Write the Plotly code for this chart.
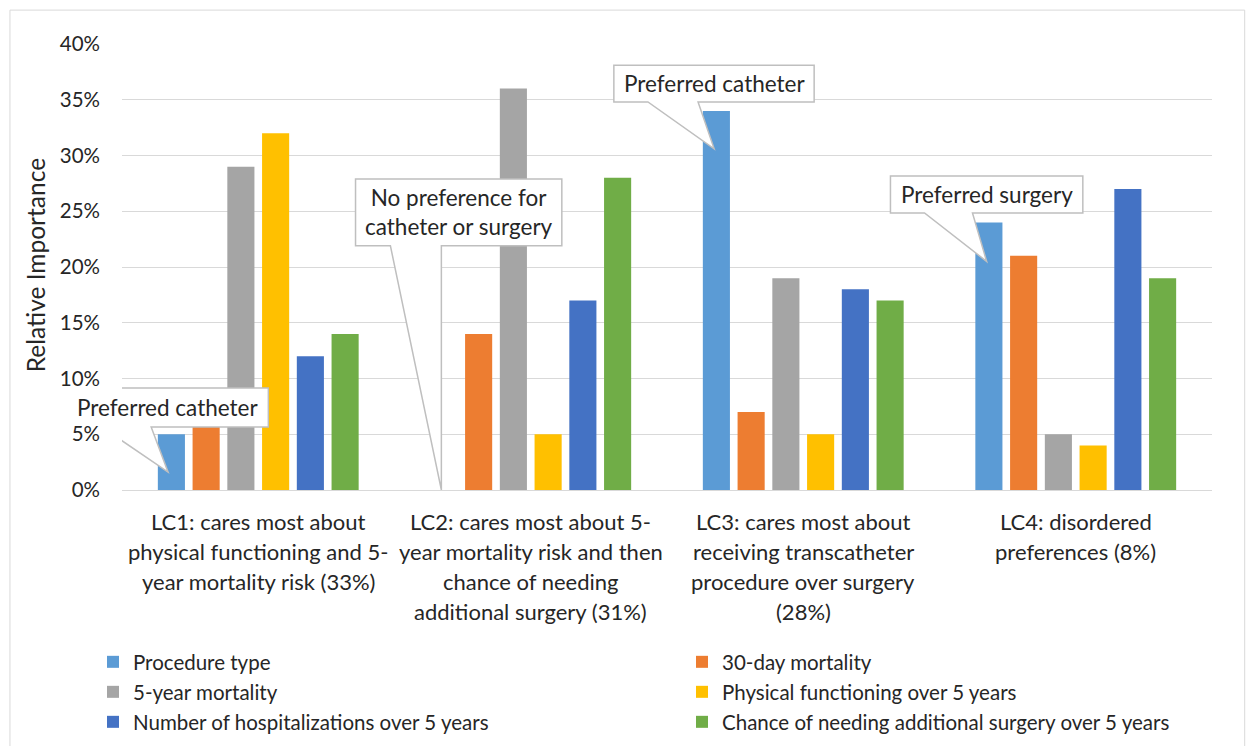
import plotly.graph_objects as go

# Daten
klassen = ['LC1', 'LC2', 'LC3', 'LC4']
klassen_text = [
    ['LC1: cares most about', 'physical functioning and 5-', 'year mortality risk (33%)'],
    ['LC2: cares most about 5-', 'year mortality risk and then', 'chance of needing', 'additional surgery (31%)'],
    ['LC3: cares most about', 'receiving transcatheter', 'procedure over surgery', '(28%)'],
    ['LC4: disordered', 'preferences (8%)'],
]
attribute = ['Procedure type', '30-day mortality', '5-year mortality',
             'Physical functioning over 5 years', 'Number of hospitalizations over 5 years',
             'Chance of needing additional surgery over 5 years']
procedure_type = [5, 0, 34, 24]
mortality_30d = [6, 14, 7, 21]
mortality_5y = [29, 36, 19, 5]
physical = [32, 5, 5, 4]
hospitalizations = [12, 17, 18, 27]
add_surgery = [14, 28, 17, 19]
werte = [procedure_type, mortality_30d, mortality_5y, physical, hospitalizations, add_surgery]
farben = ['#5B9BD5', '#ED7D31', '#A5A5A5', '#FFC000', '#4472C4', '#70AD47']

# Callouts: text, box (x0, x1, y_top, y_bottom), wedge base (xa, xb), tip (x, y)
callout_text = ['Preferred catheter', 'No preference for<br>catheter or surgery',
                'Preferred catheter', 'Preferred surgery']
callout_box = [(-0.702, 0.037, 9.15, 5.65), (0.357, 1.114, 27.9, 21.9),
               (1.305, 2.040, 38.1, 34.8), (2.320, 3.026, 28.16, 24.84)]
callout_base = [(-0.574, -0.393), (0.485, 0.672), (1.430, 1.614), (2.445, 2.621)]
callout_tip = [(-0.331, 1.6), (0.672, 0.0), (1.673, 30.6), (2.673, 20.5)]

schrift = 'Lato'
textfarbe = '#262626'

# Legende: 2 Spalten, 3 Zeilen (Position in Pixel der Seite)
leg_x = [93, 682]
leg_y = [662, 692, 722]

fig = go.Figure()
legenden = {}
for k, (name, w, f) in enumerate(zip(attribute, werte, farben)):
    lname = 'legend' if k == 0 else f'legend{k + 1}'
    fig.add_trace(go.Bar(x=list(range(len(klassen))), y=w, name=name, marker_color=f,
                         marker_line_width=0, legend=lname))
    legenden[lname] = dict(x=leg_x[k % 2] / 1248, xref='container', xanchor='left',
                           y=1 - leg_y[k // 2] / 746, yref='container', yanchor='middle',
                           font=dict(family=schrift, size=20.5, color=textfarbe),
                           bgcolor='rgba(0,0,0,0)', itemwidth=30)

shapes = []
annotations = []
for txt, box, base, tip in zip(callout_text, callout_box, callout_base, callout_tip):
    x0, x1, yt, yb = box
    pfad = (f'M {x0},{yt} L {x1},{yt} L {x1},{yb} L {base[1]},{yb} L {tip[0]},{tip[1]} '
            f'L {base[0]},{yb} L {x0},{yb} Z')
    shapes.append(dict(type='path', path=pfad, xref='x', yref='y', fillcolor='white',
                       line=dict(color='#BFBFBF', width=1.5), layer='above'))
    annotations.append(dict(x=(x0 + x1) / 2, y=(yt + yb) / 2, xref='x', yref='y', text=txt,
                            showarrow=False, font=dict(family=schrift, size=22.5, color=textfarbe)))

# Kategoriebeschriftungen zeilenweise
for i, zeilen in enumerate(klassen_text):
    for j, z in enumerate(zeilen):
        annotations.append(dict(x=i, y=0, xref='x', yref='paper', text=z, showarrow=False,
                                yanchor='middle', yshift=-31 - 30 * j,
                                font=dict(family=schrift, size=22, color=textfarbe)))

# Achsentitel
annotations.append(dict(x=-0.0798, y=0.504, xref='paper', yref='paper', text='Relative Importance',
                        textangle=-90, showarrow=False, xanchor='center', yanchor='middle',
                        font=dict(family=schrift, size=24.5, color=textfarbe)))

# Rahmen um das Diagramm
shapes.append(dict(type='rect', xref='paper', yref='paper', x0=-0.1028, x1=1.030,
                   y0=-1.0, y1=1.076, line=dict(color='#D9D9D9', width=1), layer='below'))

fig.update_layout(
    width=1248, height=746,
    margin=dict(l=122, r=36, t=44, b=256, autoexpand=False),
    paper_bgcolor='white', plot_bgcolor='white',
    font=dict(family=schrift, size=18, color=textfarbe),
    barmode='group', bargap=0.235, bargroupgap=0.22,
    shapes=shapes, annotations=annotations,
    showlegend=True,
    **legenden,
)
fig.update_xaxes(range=[-0.5, 3.5], showticklabels=False, showgrid=False, zeroline=False,
                 showline=False, ticks='')
fig.update_yaxes(range=[0, 40], tickvals=[0, 5, 10, 15, 20, 25, 30, 35, 40],
                 ticktext=['0%', '5%', '10%', '15%', '20%', '25%', '30%', '35%', '40%'],
                 showgrid=True, gridcolor='#D9D9D9', gridwidth=1, zeroline=True,
                 zerolinecolor='#D9D9D9', zerolinewidth=1, ticklabelstandoff=21,
                 tickfont=dict(size=20.5))

fig.write_html("out.html", config={'displayModeBar': False},
               post_script="document.body.style.margin='0';")
